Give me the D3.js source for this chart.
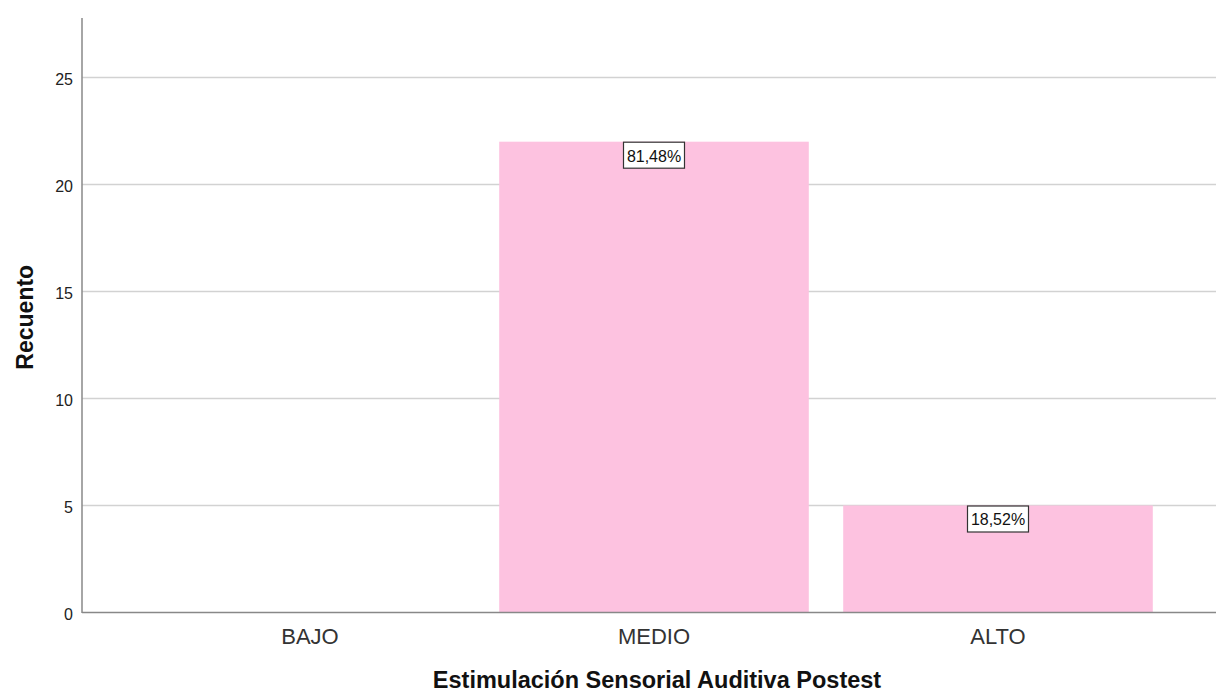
<!DOCTYPE html>
<html><head><meta charset="utf-8">
<script src="https://cdn.jsdelivr.net/npm/d3@7"></script>
<style>body{margin:0;background:#fff}svg{display:block}text{font-family:"Liberation Sans",Arial,sans-serif}</style>
</head><body>
<script>
const categories = ["BAJO", "MEDIO", "ALTO"];
const counts = [0, 22, 5];
const percentLabels = [null, "81,48%", "18,52%"];
const yTicks = [0, 5, 10, 15, 20, 25];
const xTitle = "Estimulación Sensorial Auditiva Postest";
const yTitle = "Recuento";

const W = 1216, H = 694;
const svg = d3.select("body").append("svg").attr("width", W).attr("height", H);

const plotLeft = 82, plotRight = 1216, plotTop = 18, plotBottom = 612.5;
const y = d3.scaleLinear().domain([0, 27.78]).range([plotBottom, plotTop]);
const x = d3.scaleBand().domain(categories).range([138, 1170]).paddingInner(0.1).paddingOuter(0.05);

// gridlines
svg.append("g").selectAll("line").data(yTicks.filter(d => d > 0)).join("line")
  .attr("x1", plotLeft).attr("x2", plotRight)
  .attr("y1", d => y(d)).attr("y2", d => y(d))
  .attr("stroke", "#d2d2d2").attr("stroke-width", 1.5);

// bars
svg.append("g").selectAll("rect").data(categories).join("rect")
  .attr("x", d => x(d)).attr("width", x.bandwidth())
  .attr("y", (d, i) => y(counts[i])).attr("height", (d, i) => plotBottom - y(counts[i]))
  .attr("fill", "#fdc2e0");

// y axis
const yAxis = d3.axisLeft(y).tickValues(yTicks).tickSize(0).tickPadding(9);
const gy = svg.append("g").attr("transform", `translate(${plotLeft},0)`).call(yAxis);
gy.select(".domain").remove();
gy.selectAll("text").attr("font-size", 16).attr("fill", "#222").attr("dy", "0.45em")
  .attr("font-family", "Liberation Sans, Arial, sans-serif");
svg.append("line").attr("x1", plotLeft).attr("x2", plotLeft).attr("y1", plotTop).attr("y2", plotBottom + 0.5)
  .attr("stroke", "#888").attr("stroke-width", 1.5);

// x axis
const xAxis = d3.axisBottom(x).tickSize(0).tickPadding(0);
const gx = svg.append("g").attr("transform", `translate(0,${plotBottom})`).call(xAxis);
gx.select(".domain").remove();
gx.selectAll("text").attr("font-size", 22).attr("fill", "#333").attr("dy", null).attr("y", 31.5)
  .attr("font-family", "Liberation Sans, Arial, sans-serif");
svg.append("line").attr("x1", plotLeft).attr("x2", plotRight).attr("y1", plotBottom).attr("y2", plotBottom)
  .attr("stroke", "#888").attr("stroke-width", 1.5);

// labels
const lab = svg.append("g").selectAll("g").data(categories.map((c, i) => ({c, v: counts[i], t: percentLabels[i]})).filter(d => d.t))
  .join("g").attr("transform", d => `translate(${x(d.c) + x.bandwidth() / 2},${y(d.v)})`);
lab.append("rect").attr("x", -30.5).attr("y", 0.5).attr("width", 61).attr("height", 26)
  .attr("fill", "#fff").attr("stroke", "#333").attr("stroke-width", 1.2);
lab.append("text").attr("x", 0).attr("y", 20).attr("text-anchor", "middle").attr("font-size", 16).attr("fill", "#111").text(d => d.t);

// titles
svg.append("text").attr("x", 657).attr("y", 688).attr("text-anchor", "middle")
  .attr("font-size", 23.5).attr("font-weight", "bold").attr("fill", "#111").text(xTitle);
svg.append("text").attr("transform", `translate(33,${(plotTop + plotBottom) / 2 + 2}) rotate(-90)`)
  .attr("text-anchor", "middle").attr("font-size", 23).attr("font-weight", "bold").attr("fill", "#111").text(yTitle);
</script>
</body></html>
